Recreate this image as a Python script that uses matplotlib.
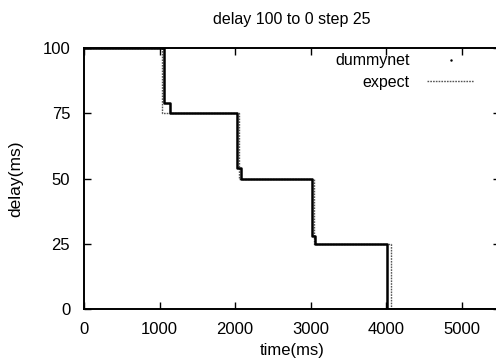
import matplotlib
matplotlib.use("Agg")
import matplotlib.pyplot as plt

plt.rcParams['font.family'] = ['Liberation Sans', 'DejaVu Sans']

# dummynet measured delay (breakpoints of the staircase)
dummy_t = [0, 1058, 1138, 2028, 2073, 3020, 3056, 4003, 5500]
dummy_d = [100, 79, 75, 54, 50, 28, 25, 0, 0]

# expected delay
expect_t = [0, 1036, 2045, 3046, 4057, 5500]
expect_d = [100, 75, 50, 25, 0, 0]

xticks = [0, 1000, 2000, 3000, 4000, 5000]
yticks = [0, 25, 50, 75, 100]

fig = plt.figure(figsize=(4.96, 3.62), dpi=100)
ax = fig.add_axes([0.1694, 0.1464, 0.838, 0.721])

# dummynet as dense points -> draw as thick step line
ax.plot(dummy_t, dummy_d, drawstyle='steps-post', color='black', lw=1.8, zorder=3)
ax.plot([], [], ls='none', marker='.', ms=1.5, color='black', label='dummynet')

ax.plot(expect_t, expect_d, drawstyle='steps-post', color='#555555', lw=1.0,
        ls=(0, (1.2, 0.8)), label='expect', zorder=2)

ax.set_xlim(0, 5500)
ax.set_ylim(0, 100)
ax.set_xticks(xticks)
ax.set_yticks(yticks)
ax.tick_params(direction='in', length=5, width=1, top=True, right=True,
               labelsize=12)
ax.tick_params(axis='x', pad=9)
ax.tick_params(axis='y', pad=10)
for s in ax.spines.values():
    s.set_linewidth(1.4)

ax.set_title('delay 100 to 0 step 25', fontsize=11.5, pad=17)
ax.set_xlabel('time(ms)', fontsize=12, labelpad=5)
ax.set_ylabel('delay(ms)', fontsize=12.5, labelpad=14)

ax.legend(loc='upper right', bbox_to_anchor=(0.9375, 0.98), frameon=False,
          markerfirst=False, fontsize=11.5, handlelength=2.9,
          labelspacing=0.4, handletextpad=1.1, borderaxespad=0, borderpad=0)

fig.savefig('out.png', dpi=100)
